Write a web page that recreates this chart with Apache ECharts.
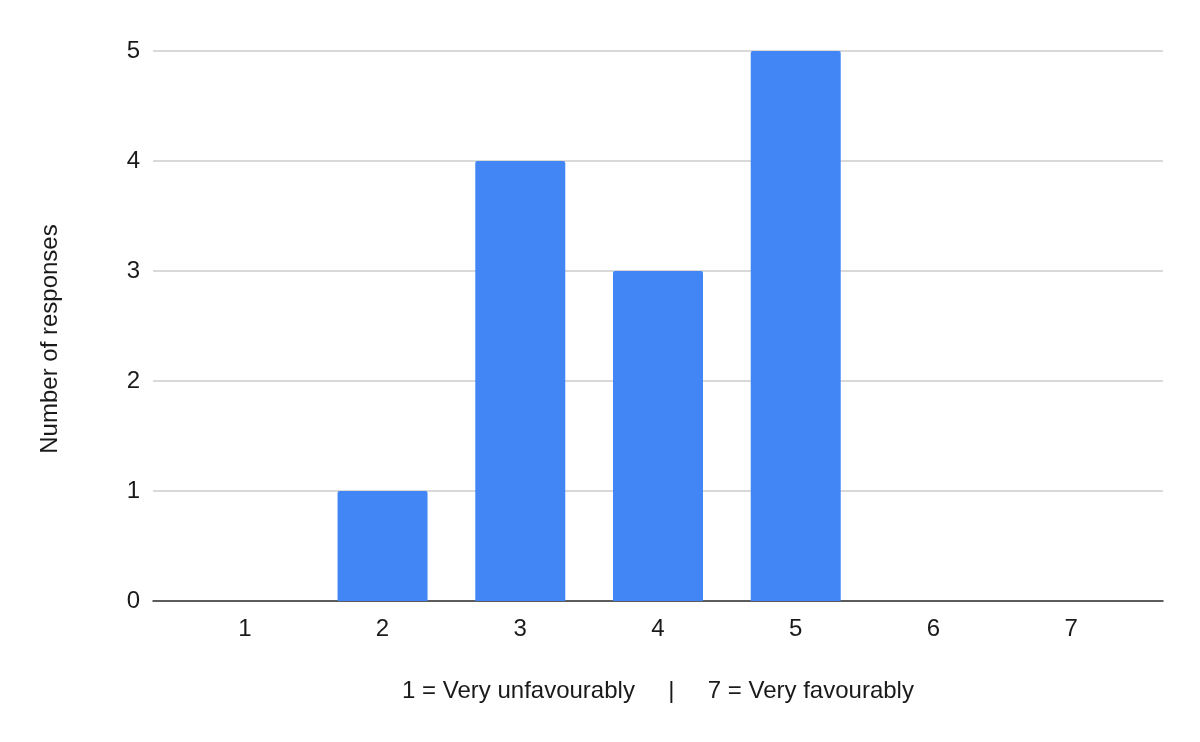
<!DOCTYPE html>
<html><head><meta charset="utf-8">
<script src="https://cdn.jsdelivr.net/npm/echarts@6/dist/echarts.min.js"></script>
<style>html,body{margin:0;padding:0;background:#fff}#c{width:1200px;height:742px}</style>
</head><body><div id="c"></div>
<script>
const categories = [1, 2, 3, 4, 5, 6, 7];
const responses = [0, 1, 4, 3, 5, 0, 0];
const yTicks = [0, 1, 2, 3, 4, 5];
const xTitle = '1 = Very unfavourably     |     7 = Very favourably';
const yTitle = 'Number of responses';

const chart = echarts.init(document.getElementById('c'));
const font = 'Liberation Sans, Arial, sans-serif';
chart.setOption({
  animation: false,
  grid: { left: 153, right: 37, top: 51, bottom: 141 },
  xAxis: {
    type: 'value', min: 1/3, max: 23/3,
    axisLine: { lineStyle: { color: '#333', width: 1.5 } },
    axisTick: { show: false },
    splitLine: { show: false },
    axisLabel: { customValues: categories, color: '#1a1a1a', fontSize: 24, fontFamily: font, margin: 16 },
    name: xTitle, nameLocation: 'middle', nameGap: 78,
    nameTextStyle: { color: '#1a1a1a', fontSize: 24, fontFamily: font }
  },
  yAxis: {
    type: 'value', min: 0, max: 5, interval: 1,
    axisLine: { show: false }, axisTick: { show: false },
    splitLine: { lineStyle: { color: '#ccc', width: 1.5 } },
    axisLabel: { customValues: yTicks, color: '#1a1a1a', fontSize: 24, fontFamily: font, margin: 13 },
    name: yTitle, nameLocation: 'middle', nameGap: 91,
    nameTextStyle: { color: '#1a1a1a', fontSize: 24, fontFamily: font, padding: [0, 26, 0, 0] }
  },
  series: [{
    type: 'bar', barWidth: 90,
    itemStyle: { color: '#4285F4', borderRadius: [2, 2, 0, 0] },
    data: categories.map((c, i) => [c, responses[i]])
  }]
});
</script></body></html>
